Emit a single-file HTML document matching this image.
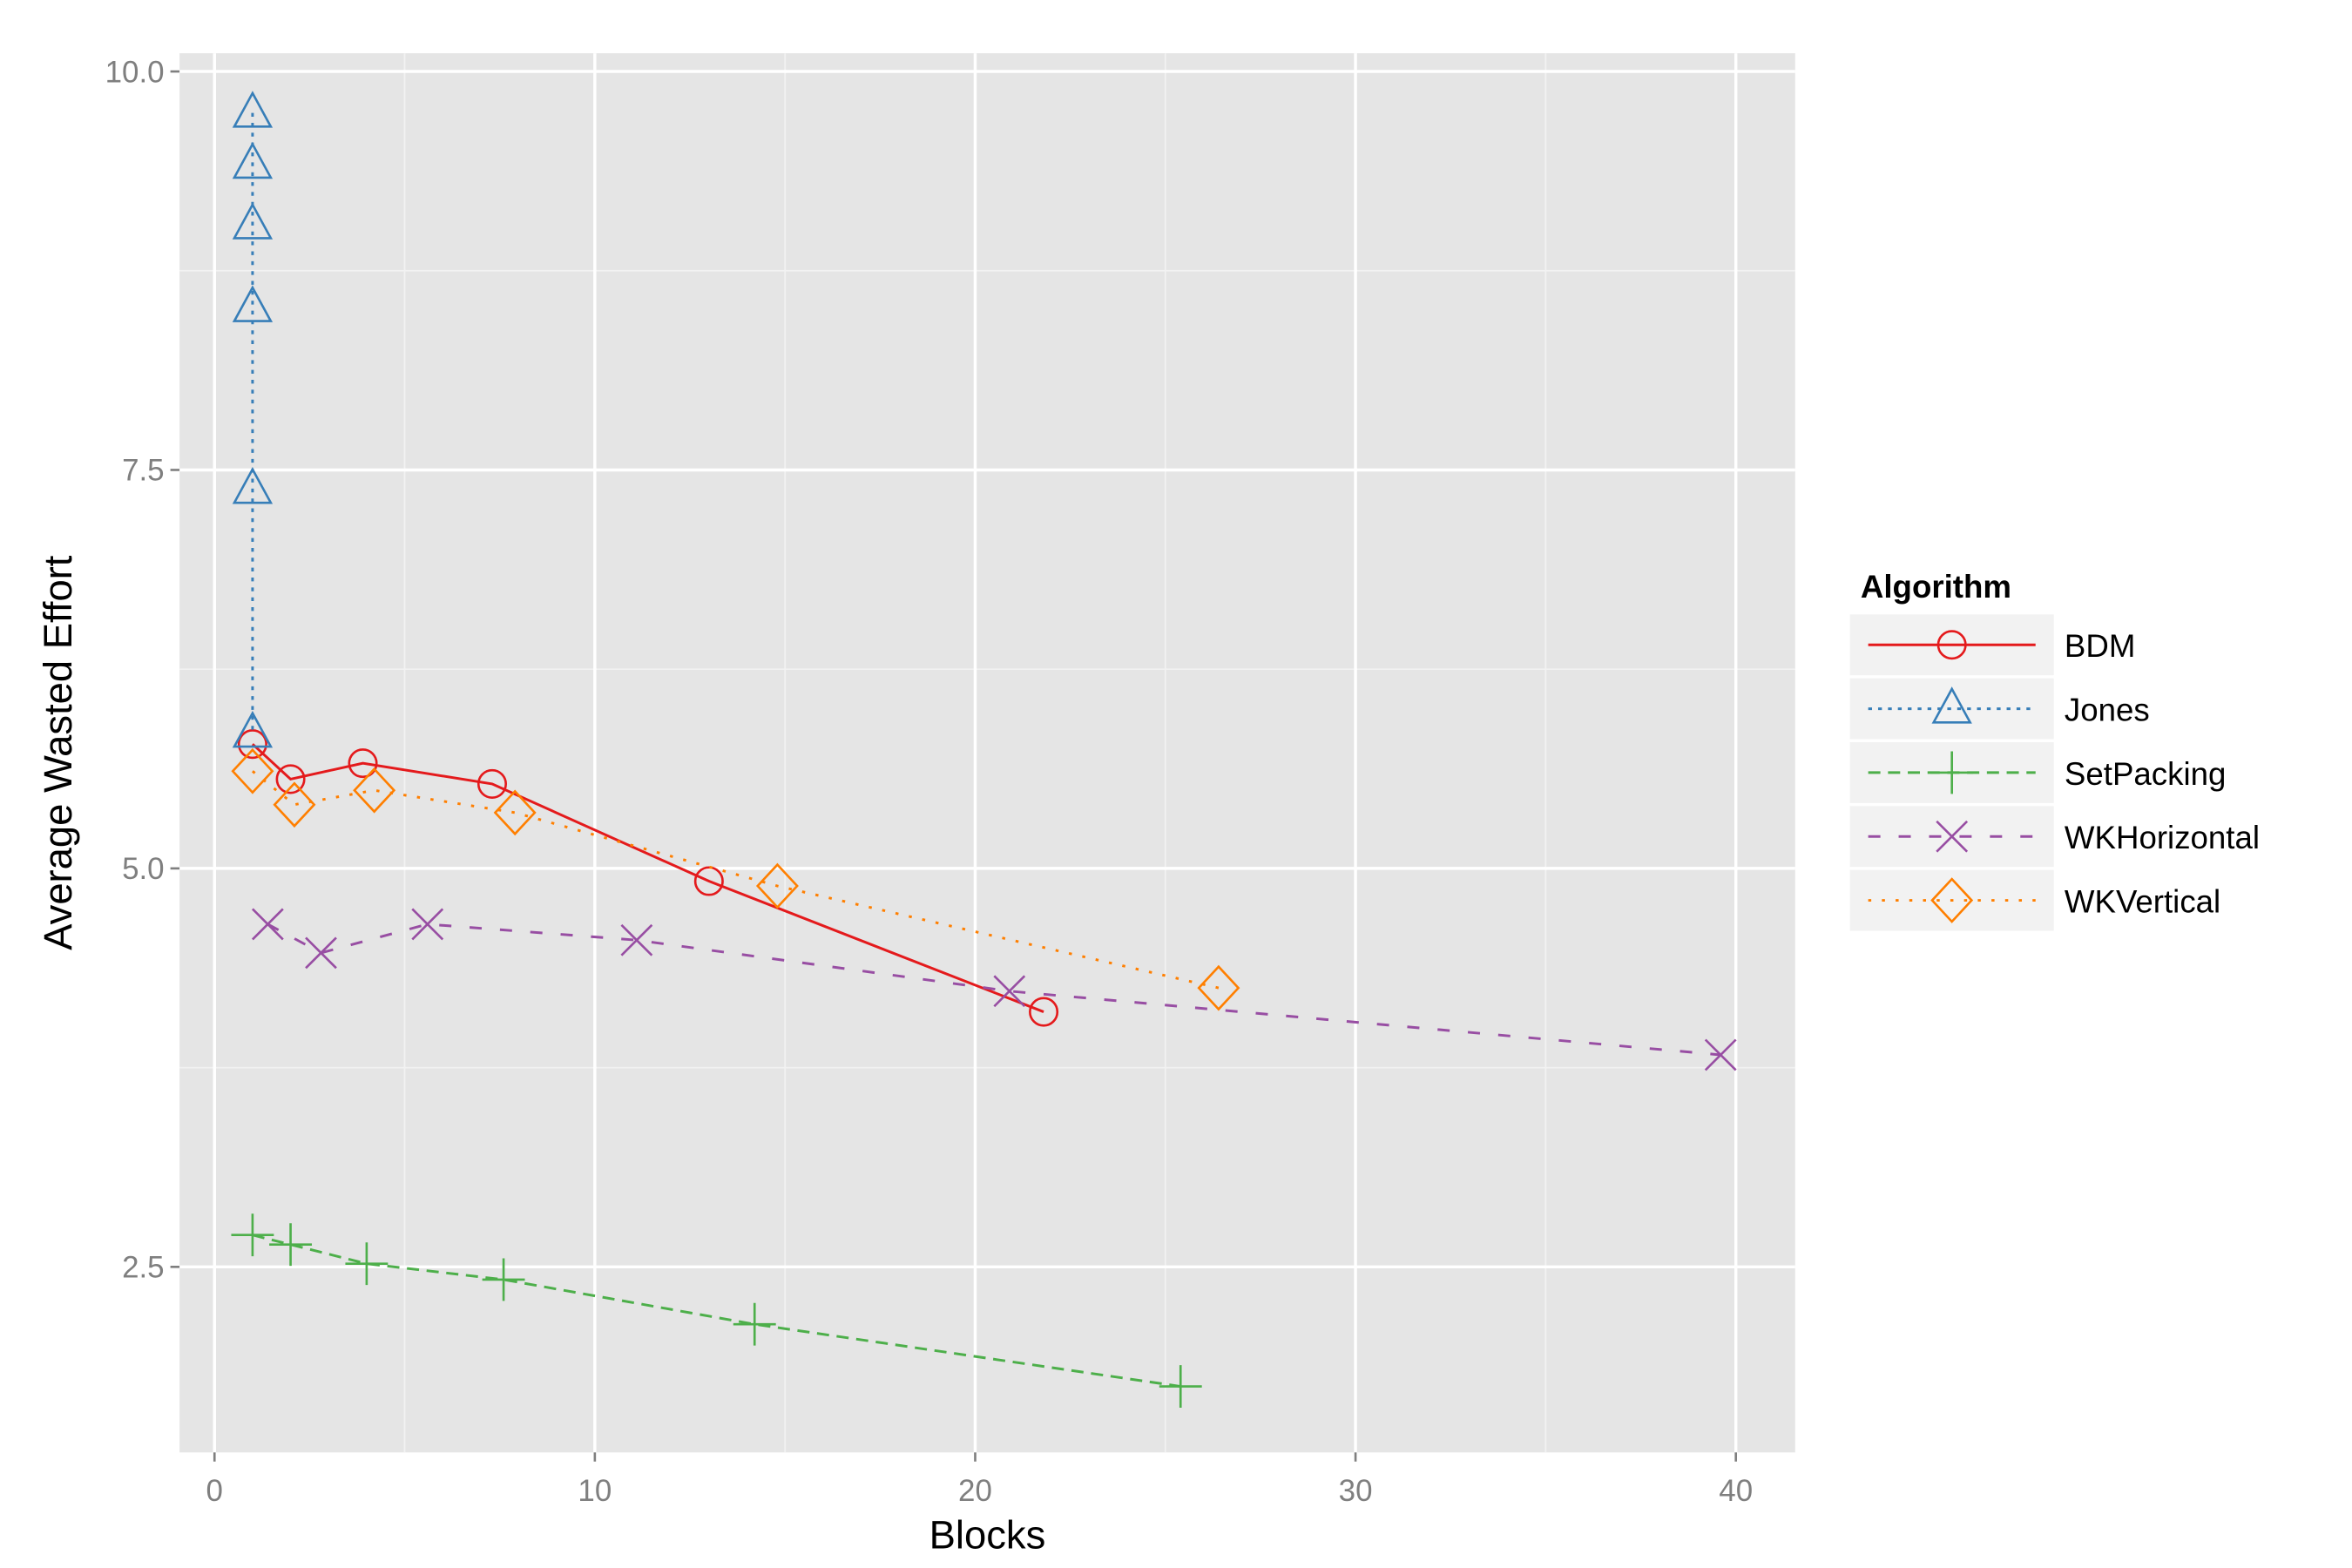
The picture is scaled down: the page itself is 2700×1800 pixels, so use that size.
<!DOCTYPE html>
<html><head><meta charset="utf-8"><style>
html,body{margin:0;padding:0;background:#fff}
svg{display:block}
text{font-family:"Liberation Sans",sans-serif}
</style></head><body>
<svg id="chart" width="2700" height="1800" viewBox="0 0 1546 1031" preserveAspectRatio="none" xmlns="http://www.w3.org/2000/svg">
<rect x="118" y="35" width="1062" height="920" fill="#e5e5e5"/>
<g id="grid"></g>
<g id="axes"></g>
<g id="series"></g>
<text x="649" y="1018" font-size="26" text-anchor="middle" fill="#000">Blocks</text>
<text transform="translate(47,495) rotate(-90)" font-size="26" text-anchor="middle" fill="#000">Average Wasted Effort</text>
<g id="legend">
<text x="1223" y="393" font-size="21" font-weight="bold">Algorithm</text>
</g>
</svg>
<script>
const seriesNames=["BDM","Jones","SetPacking","WKHorizontal","WKVertical"];
const bdmX=[1,2,3.9,7.3,13,21.8];
const bdmY=[5.78,5.56,5.66,5.53,4.92,4.1];
const jonesX=[1,1,1,1,1,1];
const jonesY=[9.74,9.42,9.04,8.52,7.38,5.85];
const setX=[1,2,4,7.6,14.2,25.4];
const setY=[2.7,2.64,2.52,2.42,2.14,1.75];
const wkhX=[1.4,2.8,5.6,11.1,20.9,39.6];
const wkhY=[4.65,4.47,4.65,4.55,4.23,3.83];
const wkvX=[1,2.1,4.2,7.9,14.8,26.4];
const wkvY=[5.61,5.4,5.49,5.35,4.89,4.25];
const xTicks=[0,10,20,30,40];
const yTicks=[2.5,5.0,7.5,10.0];
const xMinor=[5,15,25,35];
const yMinor=[3.75,6.25,8.75];

const NS="http://www.w3.org/2000/svg";
const X=v=>141+v*25;
const Y=v=>47+(10-v)*104.8;
function mk(parent,tag,attrs){const e=document.createElementNS(NS,tag);for(const k in attrs)e.setAttribute(k,attrs[k]);parent.appendChild(e);return e;}
const grid=document.getElementById('grid'),axes=document.getElementById('axes'),ser=document.getElementById('series'),leg=document.getElementById('legend');
xMinor.forEach(v=>{const l=mk(grid,'line',{x1:X(v),x2:X(v),y1:35,y2:955,stroke:'#f2f2f2','stroke-width':1});

});
yMinor.forEach(v=>{const l=mk(grid,'line',{x1:118,x2:1180,y1:Y(v),y2:Y(v),stroke:'#f2f2f2','stroke-width':1});

});
xTicks.forEach(v=>{const l=mk(grid,'line',{x1:X(v),x2:X(v),y1:35,y2:955,stroke:'#fff','stroke-width':2});


const t=mk(axes,'line',{x1:X(v),x2:X(v),y1:955,y2:961,stroke:'#7f7f7f','stroke-width':1.5});


const tx=mk(axes,'text',{x:X(v),y:987,'font-size':20,'text-anchor':'middle',fill:'#7f7f7f'});tx.textContent=String(v);

});
yTicks.forEach(v=>{const l=mk(grid,'line',{x1:118,x2:1180,y1:Y(v),y2:Y(v),stroke:'#fff','stroke-width':2});


const t=mk(axes,'line',{x1:112,x2:118,y1:Y(v),y2:Y(v),stroke:'#7f7f7f','stroke-width':1.5});


const tx=mk(axes,'text',{x:108,y:Y(v)+7,'font-size':20,'text-anchor':'end',fill:'#7f7f7f'});tx.textContent=v.toFixed(1);

});

const styles=[
 {c:'#e41a1c',d:'',shape:'circle'},
 {c:'#377eb8',d:'2.5 4',shape:'triangle'},
 {c:'#4daf4a',d:'8 5',shape:'plus'},
 {c:'#984ea3',d:'8 12',shape:'cross'},
 {c:'#ff7f00',d:'2 7',shape:'diamond'}];
const data=[[bdmX,bdmY],[jonesX,jonesY],[setX,setY],[wkhX,wkhY],[wkvX,wkvY]];
function marker(g,shape,cx,cy,c){
 let e;
 if(shape==='circle')e=mk(g,'circle',{cx,cy,r:9,fill:'none',stroke:c,'stroke-width':1.5});
 else if(shape==='triangle')e=mk(g,'path',{d:`M${cx} ${cy-13}L${cx+12} ${cy+9}L${cx-12} ${cy+9}Z`,fill:'none',stroke:c,'stroke-width':1.5});
 else if(shape==='plus')e=mk(g,'path',{d:`M${cx-14} ${cy}H${cx+14}M${cx} ${cy-14}V${cx===cx?cy+14:0}`,fill:'none',stroke:c,'stroke-width':1.5});
 else if(shape==='cross')e=mk(g,'path',{d:`M${cx-10} ${cy-10}L${cx+10} ${cy+10}M${cx+10} ${cy-10}L${cx-10} ${cy+10}`,fill:'none',stroke:c,'stroke-width':1.5});
 else e=mk(g,'path',{d:`M${cx} ${cy-14}L${cx+13} ${cy}L${cx} ${cy+14}L${cx-13} ${cy}Z`,fill:'none',stroke:c,'stroke-width':1.5});
 return e;
}
data.forEach((s,i)=>{
 const st=styles[i];
 const g=mk(ser,'g',{});
 
 
 const pts=s[0].map((x,j)=>X(x)+','+Y(s[1][j])).join(' ');
 const pl=mk(g,'polyline',{points:pts,fill:'none',stroke:st.c,'stroke-width':1.7,'stroke-dasharray':st.d});
 
 
 s[0].forEach((x,j)=>{const m=marker(g,st.shape,X(x),Y(s[1][j]),st.c);
 
 });
 const y0=404+i*42;
 const kg=mk(leg,'g',{});
 
 
 mk(kg,'rect',{x:1216,y:y0,width:134,height:40,fill:'#f2f2f2'});
 mk(kg,'line',{x1:1228,x2:1338,y1:y0+20,y2:y0+20,stroke:st.c,'stroke-width':1.7,'stroke-dasharray':st.d});
 marker(kg,st.shape,1283,y0+20,st.c);
 const t=mk(kg,'text',{x:1357,y:y0+28,'font-size':21,fill:'#000'});t.textContent=seriesNames[i];
});
</script>
</body></html>
